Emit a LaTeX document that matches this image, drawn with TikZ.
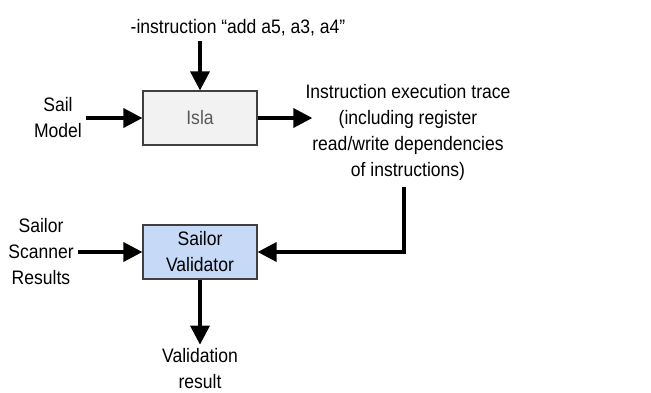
\documentclass[tikz,border=0pt]{standalone}
\usepackage{fontspec}
\setmainfont{Liberation Sans}[FakeStretch=0.9]
\usetikzlibrary{arrows.meta,positioning}
\definecolor{valblue}{HTML}{C6D9F7}
\tikzset{>={Triangle[length=19pt,width=19pt]},
  blok/.style={draw=black!75,line width=1.2pt,minimum width=114pt,minimum height=54pt,align=center},
  flow/.style={->,line width=3.5pt},
  lbl/.style={align=center,inner sep=4pt}}

\begin{document}
\begin{tikzpicture}[x=1pt,y=-1pt,font=\fontsize{19.5}{26}\selectfont]
  \useasboundingbox (0,0) rectangle (651,392);
  \node [blok,fill=black!5,text=black!65] (isla) at (200,118) {Isla};
  \node [blok,fill=valblue] (validator) at (200,252) {Sailor\\Validator};

  \node [lbl] (instr) at (238,28) {-instruction “add a5, a3, a4”};
  \node [lbl] (sail) at (58,118) {Sail\\Model};
  \node [lbl] (trace) at (408,132) {Instruction execution trace\\(including register\\read/write dependencies\\of instructions)};
  \node [lbl] (scanner) at (41,252) {Sailor\\Scanner\\Results};
  \node [lbl] (result) at (200,369) {Validation\\result};
  \coordinate (traceend) at ([xshift=11pt]trace.west |- isla.east);
  \coordinate (tracedown) at ([xshift=-4pt,yshift=-3pt]trace.south);

  \draw [flow] (instr.south -| isla.north) -- (isla.north);
  \draw [flow] (sail.east |- isla.west) -- (isla.west);
  \draw [flow] (isla.east) -- (traceend);
  \draw [flow] (tracedown) |- (validator.east);
  \draw [flow] (scanner.east |- validator.west) -- (validator.west);
  \draw [flow] (validator.south) -- (result.north);
\end{tikzpicture}
\end{document}
